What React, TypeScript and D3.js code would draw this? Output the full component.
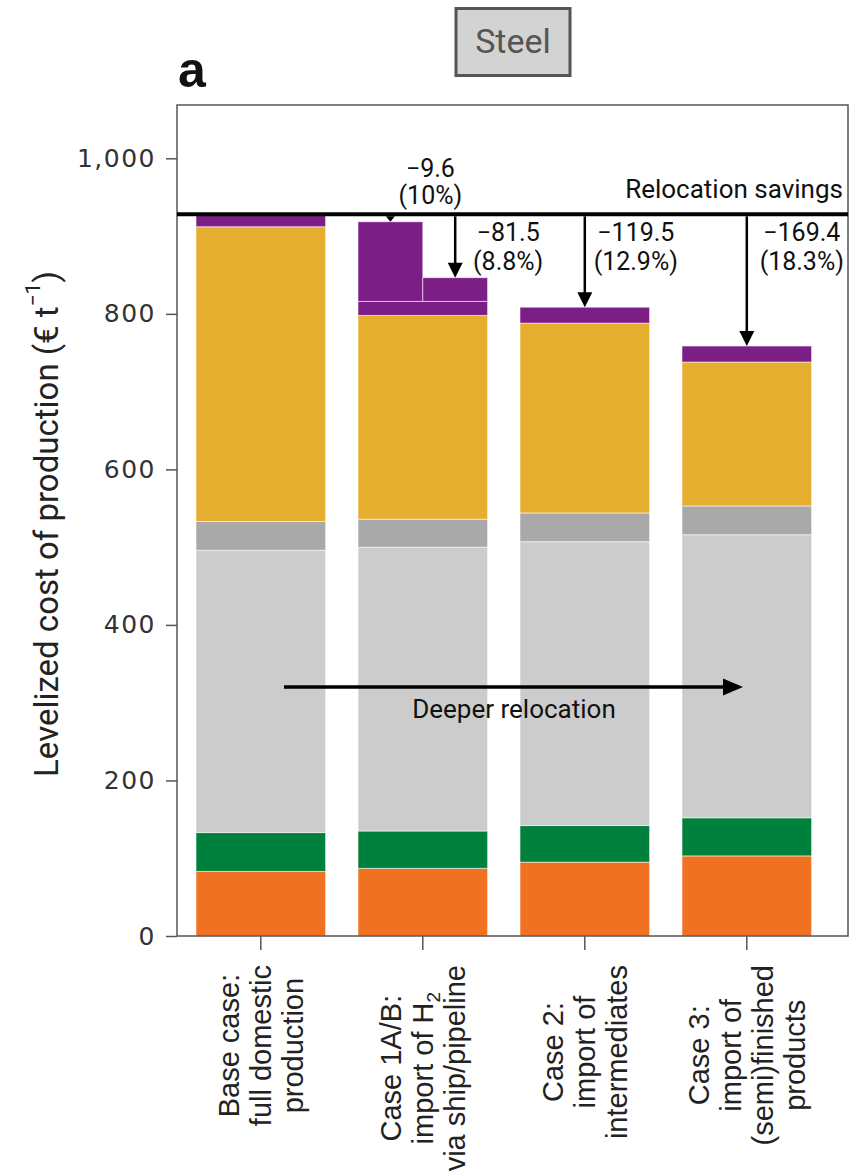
import React, { useEffect, useRef } from 'react';
import * as d3 from 'd3';

// categories (bars, left to right)
const categories = ['Base case', 'Case 1A/B', 'Case 2', 'Case 3'];
const xLabelLines = [
  ['Base case:', 'full domestic', 'production'],
  ['Case 1A/B:', 'import of H_2', 'via ship/pipeline'],
  ['Case 2:', 'import of', 'intermediates'],
  ['Case 3:', 'import of', '(semi)finished', 'products'],
];

// stacked cost components, bottom to top (€ per t)
const orange = [83, 87, 95, 103];
const green = [50, 48, 47, 49];
const lightGray = [363, 365, 365, 364];
const darkGray = [37, 36, 37, 37];
const yellow = [379, 262, 244, 185];
const purple = [16, 18, 20.5, 20.6];
const segmentColors = ['#f07122', '#00803d', '#cccccc', '#a9a9a9', '#e5ae2e', '#7b1f87'];

// case 1A (ship) / 1B (pipeline) extra H2 import cost on top of the shared stack
const case1Split = [102.4, 30.5];

// relocation savings vs base case
const savingsValues = [9.6, 81.5, 119.5, 169.4];
const savingsPct = ['(10%)', '(8.8%)', '(12.9%)', '(18.3%)'];

const yTicks = [0, 200, 400, 600, 800, 1000];

export default function App() {
  const ref = useRef<SVGSVGElement>(null);

  useEffect(() => {
    const svg = d3.select(ref.current);
    svg.selectAll('*').remove();

    const frame = { left: 177, right: 848, top: 105, bottom: 936 };
    const y = d3.scaleLinear().domain([0, 1000]).range([936, 158.3]);
    const x = d3.scaleBand().domain(categories).range([179.8, 827.8]).paddingInner(0.2).paddingOuter(0.1);
    const bw = x.bandwidth();
    const font = 'Roboto, sans-serif';

    const series = [orange, green, lightGray, darkGray, yellow, purple];
    const stackData = categories.map((c, i) => {
      const row: any = { cat: c };
      series.forEach((s, j) => (row['s' + j] = s[i]));
      return row;
    });
    const stack = d3.stack().keys(series.map((_, j) => 's' + j))(stackData);

    // title box
    svg.append('rect').attr('x', 456).attr('y', 8.5).attr('width', 114).attr('height', 67)
      .attr('fill', '#d3d3d3').attr('stroke', '#555').attr('stroke-width', 3);
    svg.append('text').attr('x', 513).attr('y', 53).attr('text-anchor', 'middle')
      .attr('font-family', font).attr('font-size', 34).attr('fill', '#555').text('Steel');
    svg.append('text').attr('x', 178).attr('y', 87)
      .attr('font-family', '"Liberation Sans Narrow", "Liberation Sans", sans-serif')
      .attr('font-weight', 'bold').attr('font-size', 50).attr('fill', '#111').text('a');

    // bars
    const g = svg.append('g');
    stack.forEach((layer, j) => {
      g.selectAll(null).data(layer).join('rect')
        .attr('x', (d: any) => x(d.data.cat)!)
        .attr('width', bw)
        .attr('y', (d: any) => y(d[1]))
        .attr('height', (d: any) => y(d[0]) - y(d[1]))
        .attr('fill', segmentColors[j])
        .attr('stroke', '#fff').attr('stroke-opacity', 0.55).attr('stroke-width', 1);
    });
    const c1Top = stack[stack.length - 1][1][1];
    case1Split.forEach((v, k) => {
      g.append('rect')
        .attr('x', x(categories[1])! + (k * bw) / 2)
        .attr('width', bw / 2)
        .attr('y', y(c1Top + v))
        .attr('height', y(c1Top) - y(c1Top + v))
        .attr('fill', segmentColors[5])
        .attr('stroke', '#fff').attr('stroke-opacity', 0.55).attr('stroke-width', 1);
    });

    // frame
    svg.append('rect').attr('x', frame.left).attr('y', frame.top)
      .attr('width', frame.right - frame.left).attr('height', frame.bottom - frame.top)
      .attr('fill', 'none').attr('stroke', '#555').attr('stroke-width', 1.5);

    // y axis
    const yAxis = svg.append('g').attr('transform', `translate(${frame.left},0)`)
      .call(d3.axisLeft(y).tickValues(yTicks).tickFormat(d3.format(',')).tickSize(11).tickPadding(10));
    yAxis.select('.domain').remove();
    yAxis.selectAll('line').attr('stroke', '#555').attr('stroke-width', 1.5);
    yAxis.selectAll('text').attr('font-family', '"DejaVu Sans", sans-serif').attr('font-size', 25)
      .attr('letter-spacing', 1.5).attr('fill', '#333');

    const yl = svg.append('text').attr('transform', 'translate(46,524) rotate(-90)')
      .attr('text-anchor', 'middle').attr('dominant-baseline', 'central')
      .attr('font-family', font).attr('font-size', 33).attr('fill', '#222');
    yl.append('tspan').text('Levelized cost of production (€ t');
    yl.append('tspan').attr('font-size', 21).attr('dy', -13).text('−1');
    yl.append('tspan').attr('dy', 13).text(')');

    // x ticks
    categories.forEach((c) => {
      const cx = x(c)! + bw / 2;
      svg.append('line').attr('x1', cx).attr('x2', cx).attr('y1', frame.bottom).attr('y2', 950)
        .attr('stroke', '#555').attr('stroke-width', 1.5);
    });

    // x labels, rotated multi-line, centred lines hanging from the top
    const fs = 29, lh = 32;
    categories.forEach((c, i) => {
      const cx = x(c)! + bw / 2;
      const lines = xLabelLines[i];
      const grp = svg.append('g').attr('transform', `translate(${cx},965) rotate(-90)`);
      const texts = lines.map((ln, k) => {
        const t = grp.append('text')
          .attr('y', (k - (lines.length - 1) / 2) * lh + fs * 0.36)
          .attr('text-anchor', 'middle')
          .attr('font-family', '"Liberation Sans", Arial, sans-serif').attr('font-size', fs).attr('fill', '#222');
        const parts = ln.split('_');
        t.append('tspan').text(parts[0]);
        if (parts[1]) t.append('tspan').attr('font-size', 19).attr('dy', 7).text(parts[1]);
        return t;
      });
      const L = d3.max(texts, (t) => (t.node() as SVGTextElement).getComputedTextLength()) || 0;
      texts.forEach((t) => t.attr('x', -L / 2));
    });

    // relocation savings line
    const baseTotal = d3.sum(series, (s) => s[0]);
    svg.append('line').attr('x1', frame.left).attr('x2', frame.right)
      .attr('y1', y(baseTotal)).attr('y2', y(baseTotal)).attr('stroke', '#000').attr('stroke-width', 4);
    svg.append('text').attr('x', 843).attr('y', 198).attr('text-anchor', 'end')
      .attr('font-family', font).attr('font-size', 26).attr('fill', '#111').text('Relocation savings');

    // savings arrows
    const c1x = x(categories[1])!;
    const arrowX = [c1x + bw / 4, c1x + (3 * bw) / 4, x(categories[2])! + bw / 2, x(categories[3])! + bw / 2];
    const textDx = [40, 53, 51, 55];
    const textY = [[177, 204], [241, 270], [241, 270], [241, 270]];
    savingsValues.forEach((v, i) => {
      const ax = arrowX[i];
      const y0 = y(baseTotal) + 2;
      const y1 = y(baseTotal - v);
      const hl = Math.min(15, y1 - y0), hw = hl < 15 ? 4.5 : 7.5;
      if (y1 - hl > y0) {
        svg.append('line').attr('x1', ax).attr('x2', ax).attr('y1', y0).attr('y2', y1 - hl + 1)
          .attr('stroke', '#000').attr('stroke-width', 2.5);
      }
      svg.append('path').attr('d', `M${ax - hw},${y1 - hl}L${ax + hw},${y1 - hl}L${ax},${y1}Z`).attr('fill', '#000');
      const tx = ax + textDx[i];
      svg.append('text').attr('x', tx).attr('y', textY[i][0]).attr('text-anchor', 'middle')
        .attr('font-family', font).attr('font-size', 25).attr('fill', '#111').text('−' + v);
      svg.append('text').attr('x', tx).attr('y', textY[i][1]).attr('text-anchor', 'middle')
        .attr('font-family', font).attr('font-size', 25).attr('fill', '#111').text(savingsPct[i]);
    });

    // deeper relocation arrow
    svg.append('line').attr('x1', 284).attr('x2', 725).attr('y1', 687).attr('y2', 687)
      .attr('stroke', '#000').attr('stroke-width', 3.5);
    svg.append('path').attr('d', 'M723,678.5L743,687L723,695.5Z').attr('fill', '#000');
    svg.append('text').attr('x', 514).attr('y', 718).attr('text-anchor', 'middle')
      .attr('font-family', font).attr('font-size', 26).attr('fill', '#111').text('Deeper relocation');
  }, []);

  return (
    <svg ref={ref} width={849} height={1174}
      style={{ position: 'absolute', left: 0, top: 0, display: 'block', background: '#fff' }} />
  );
}
